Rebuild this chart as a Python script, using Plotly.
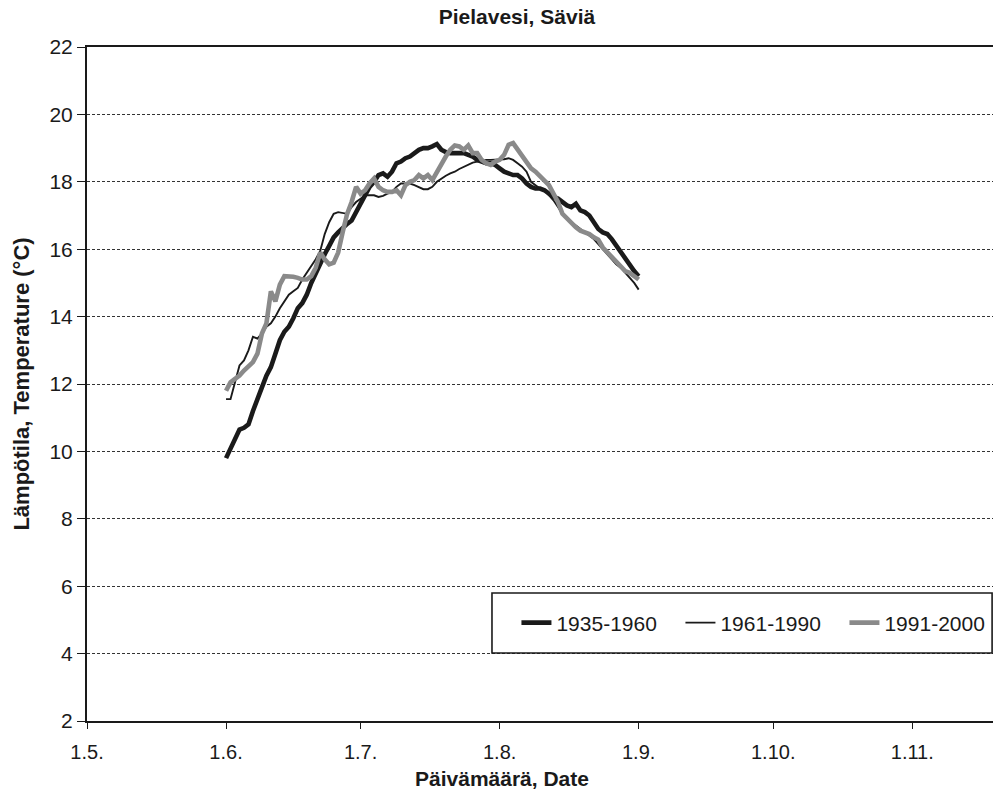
import pandas as pd
import plotly.graph_objects as go

# Daily water temperature, 1 June .. 1 September
start_date = "2001-06-01"
n_days = 93

t_1935_1960 = [9.8, 10.1, 10.4, 10.65, 10.7, 10.8, 11.2, 11.6, 11.9, 12.25,
               12.5, 12.9, 13.3, 13.55, 13.7, 13.95, 14.25, 14.4, 14.65, 15.0,
               15.3, 15.6, 15.85, 16.1, 16.35, 16.5, 16.65, 16.75, 16.85, 17.1,
               17.4, 17.6, 17.85, 18.0, 18.2, 18.25, 18.15, 18.3, 18.55, 18.6,
               18.7, 18.75, 18.85, 18.95, 19.0, 19.0, 19.05, 19.12, 18.95, 18.88,
               18.85, 18.85, 18.85, 18.85, 18.8, 18.75, 18.65, 18.6, 18.55, 18.55,
               18.5, 18.4, 18.3, 18.25, 18.2, 18.2, 18.1, 17.95, 17.85, 17.8,
               17.8, 17.75, 17.65, 17.55, 17.5, 17.4, 17.3, 17.25, 17.35, 17.15,
               17.1, 17.0, 16.8, 16.6, 16.5, 16.45, 16.3, 16.1, 15.9, 15.7,
               15.5, 15.35, 15.2]

t_1961_1990 = [11.55, 11.55, 12.05, 12.55, 12.7, 13.0, 13.4, 13.35, 13.5, 13.7,
               13.8, 14.0, 14.25, 14.45, 14.65, 14.75, 14.85, 15.1, 15.3, 15.5,
               15.7, 15.95, 16.45, 16.8, 17.05, 17.1, 17.08, 17.05, 17.25, 17.4,
               17.5, 17.6, 17.6, 17.6, 17.55, 17.58, 17.65, 17.7, 17.85, 17.95,
               17.95, 17.95, 17.9, 17.85, 17.78, 17.78, 17.85, 18.0, 18.1, 18.18,
               18.25, 18.3, 18.38, 18.45, 18.5, 18.57, 18.6, 18.63, 18.65, 18.65,
               18.65, 18.65, 18.67, 18.7, 18.65, 18.55, 18.45, 18.3, 18.0, 17.9,
               17.8, 17.75, 17.6, 17.45, 17.25, 17.05, 16.95, 16.8, 16.7, 16.6,
               16.5, 16.4, 16.3, 16.15, 16.0, 15.85, 15.68, 15.55, 15.45, 15.3,
               15.15, 15.0, 14.8]

t_1991_2000 = [11.8, 12.05, 12.15, 12.25, 12.4, 12.55, 12.65, 12.9, 13.5, 13.8,
               14.75, 14.45, 14.95, 15.2, 15.2, 15.18, 15.15, 15.1, 15.1, 15.2,
               15.45, 15.9, 15.7, 15.55, 15.6, 15.9, 16.5, 17.05, 17.4, 17.85,
               17.65, 17.75, 17.95, 18.1, 17.85, 17.75, 17.7, 17.7, 17.75, 17.6,
               17.9, 18.0, 18.05, 18.2, 18.1, 18.2, 18.05, 18.3, 18.5, 18.75,
               18.95, 19.08, 19.05, 18.95, 19.08, 18.85, 18.85, 18.65, 18.55, 18.5,
               18.6, 18.65, 18.8, 19.1, 19.15, 18.95, 18.75, 18.55, 18.4, 18.3,
               18.15, 18.05, 17.9, 17.65, 17.4, 17.05, 16.9, 16.75, 16.65, 16.55,
               16.5, 16.45, 16.35, 16.28, 16.05, 15.9, 15.78, 15.6, 15.45, 15.35,
               15.3, 15.2, 15.1]

series_names = ["1935-1960", "1961-1990", "1991-2000"]
dates = pd.date_range(start_date, periods=n_days, freq="D")

FONT = "Liberation Sans, Arial, sans-serif"
INK = "#1a1a1a"

fig = go.Figure()
styles = [
    dict(color=INK, width=4.6),
    dict(color=INK, width=1.9),
    dict(color="#8a8a8a", width=4.6),
]
for name, vals, st in zip(series_names, [t_1935_1960, t_1961_1990, t_1991_2000], styles):
    fig.add_trace(go.Scatter(x=dates, y=vals, mode="lines", name=name,
                             line=dict(color=st["color"], width=st["width"])))

# legend frame
fig.add_shape(type="rect", xref="paper", yref="paper",
              x0=0.447, x1=0.999, y0=0.101, y1=0.19,
              line=dict(color=INK, width=1.6), fillcolor="white", layer="above")

# x-axis title (placed off-centre, as in the original)
fig.add_annotation(text="<b>Päivämäärä, Date</b>", xref="paper", yref="paper",
                   x=0.458, y=-0.086, xanchor="center", yanchor="middle",
                   showarrow=False, font=dict(size=21, family=FONT, color=INK))

fig.update_layout(
    width=996, height=791,
    margin=dict(l=87, r=3, t=47, b=70, autoexpand=False),
    paper_bgcolor="white", plot_bgcolor="white",
    font=dict(family=FONT, size=20, color=INK),
    title=dict(text="<b>Pielavesi, Säviä</b>", x=0.519, xanchor="center",
               y=0.9785, yanchor="middle", font=dict(size=21, family=FONT)),
    showlegend=True,
    legend=dict(orientation="h", x=0.474, y=0.1455, xanchor="left", yanchor="middle",
                borderwidth=0, bgcolor="rgba(0,0,0,0)",
                font=dict(size=21, family=FONT),
                entrywidth=119, entrywidthmode="pixels"),
)

fig.update_xaxes(
    type="date", range=["2001-05-01", "2001-11-19"],
    tick0="2001-05-01", dtick="M1", tickformat="%-d.%-m.",
    ticks="outside", ticklen=6, tickcolor=INK, tickwidth=1.4,
    ticklabelstandoff=6,
    showline=True, linecolor=INK, linewidth=2, mirror=True,
    showgrid=False, zeroline=False,
    tickfont=dict(size=20, family=FONT),
)
fig.update_yaxes(
    range=[2, 22], dtick=2, tick0=2,
    ticks="outside", ticklen=8, tickcolor=INK, tickwidth=1.4,
    showline=True, linecolor=INK, linewidth=2,
    showgrid=True, gridcolor="#333333", gridwidth=1, griddash="3px,2px",
    zeroline=False,
    tickfont=dict(size=21, family=FONT),
    title=dict(text="<b>Lämpötila, Temperature (°C)</b>", font=dict(size=22, family=FONT), standoff=14),
)

fig.write_html("out.html")
